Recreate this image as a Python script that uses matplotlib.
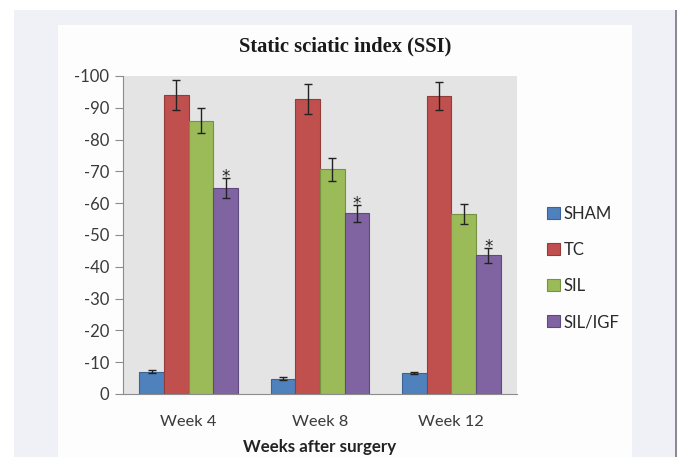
import matplotlib
matplotlib.use("Agg")
import matplotlib.pyplot as plt
import numpy as np
from matplotlib.patches import Rectangle

categories = ["Week 4", "Week 8", "Week 12"]
series = ["SHAM", "TC", "SIL", "SIL/IGF"]
sham = [-7.0, -4.8, -6.6]
tc = [-94.0, -92.8, -93.7]
sil = [-86.0, -70.6, -56.6]
sil_igf = [-64.8, -56.8, -43.6]
sham_err = [0.5, 0.4, 0.4]
tc_err = [4.7, 4.7, 4.5]
sil_err = [4.0, 3.6, 3.0]
sil_igf_err = [3.2, 2.7, 2.3]
significant = [True, True, True]  # asterisk over SIL/IGF

colors = ["#4f81bd", "#c0504d", "#9bbb59", "#8064a2"]
edges = ["#3a6496", "#943c3a", "#76913f", "#5f4a7d"]

fig = plt.figure(figsize=(6.81, 4.57), dpi=100)
fig.patch.set_facecolor("white")
W, H = 681, 457
# outer light panel
fig.patches.append(Rectangle((14 / W, 0), (675 - 14) / W, 1 - 10 / H,
                             transform=fig.transFigure, facecolor="#f0f1f7",
                             edgecolor="none", zorder=-10))
fig.patches.append(Rectangle((675 / W, 0), 1.5 / W, 1 - 10 / H,
                             transform=fig.transFigure, facecolor="#8a8a90",
                             edgecolor="none", zorder=-10))
# white chart panel
fig.patches.append(Rectangle((58 / W, 0), (632 - 58) / W, 1 - 25 / H,
                             transform=fig.transFigure, facecolor="#fdfdfd",
                             edgecolor="none", zorder=-9))

ax = fig.add_axes([123 / W, 1 - 394 / H, (517 - 123) / W, (394 - 76) / H])
ax.set_zorder(1)
ax.set_facecolor("#e4e4e4")

x = np.arange(len(categories))
bw = 0.1875
vals = [sham, tc, sil, sil_igf]
errs = [sham_err, tc_err, sil_err, sil_igf_err]
for i, (v, e) in enumerate(zip(vals, errs)):
    pos = x + (i - 1.5) * bw
    ax.bar(pos, v, width=bw, color=colors[i], edgecolor=edges[i],
           linewidth=0.8, label=series[i], zorder=2)
    ax.errorbar(pos, v, yerr=e, fmt="none", ecolor="#222222",
                elinewidth=1.0, capsize=3, capthick=1.0, zorder=3)

pos = x + 1.5 * bw
for p, v, e, s in zip(pos, sil_igf, sil_igf_err, significant):
    if s:
        ax.text(p, v - e + 1.4, "*", ha="center", va="baseline",
                fontsize=12, color="#222222", zorder=4)

ax.set_xlim(-0.5, 2.5)
ax.set_ylim(0, -100)
ax.set_yticks(np.arange(0, -101, -10))
ax.set_yticklabels([str(t) if t != 0 else "0" for t in range(0, -101, -10)])
ax.set_xticks(x)
ax.set_xticklabels(categories)

for s in ["top", "right"]:
    ax.spines[s].set_visible(False)
ax.spines["left"].set_color("#8c8c8c")
ax.spines["bottom"].set_color("#8c8c8c")
ax.tick_params(axis="y", direction="out", length=6, color="#8c8c8c",
               labelsize=12, labelcolor="#3a3a3a", pad=4)
ax.tick_params(axis="x", length=0, labelsize=11.8, labelcolor="#3a3a3a",
               pad=15)
for lbl in ax.get_xticklabels() + ax.get_yticklabels():
    lbl.set_family("Lato")

ax.set_xlabel("Weeks after surgery", fontsize=12.2, fontweight="bold",
              family="Lato", color="#222222", labelpad=7)

fig.text(345 / W, 1 - 46 / H, "Static sciatic index (SSI)", ha="center",
         va="center", fontsize=14.8, fontweight="bold",
         family="Liberation Serif", color="#1a1a1a")

leg = ax.legend(loc="center left", bbox_to_anchor=(532 / W, 1 - 268 / H),
                bbox_transform=fig.transFigure, frameon=False,
                prop={"family": "Lato", "size": 12}, handlelength=0.75,
                handleheight=0.75, handletextpad=0.25, labelspacing=1.2)
for t in leg.get_texts():
    t.set_color("#2a2a2a")

fig.savefig("out.png", dpi=100)
